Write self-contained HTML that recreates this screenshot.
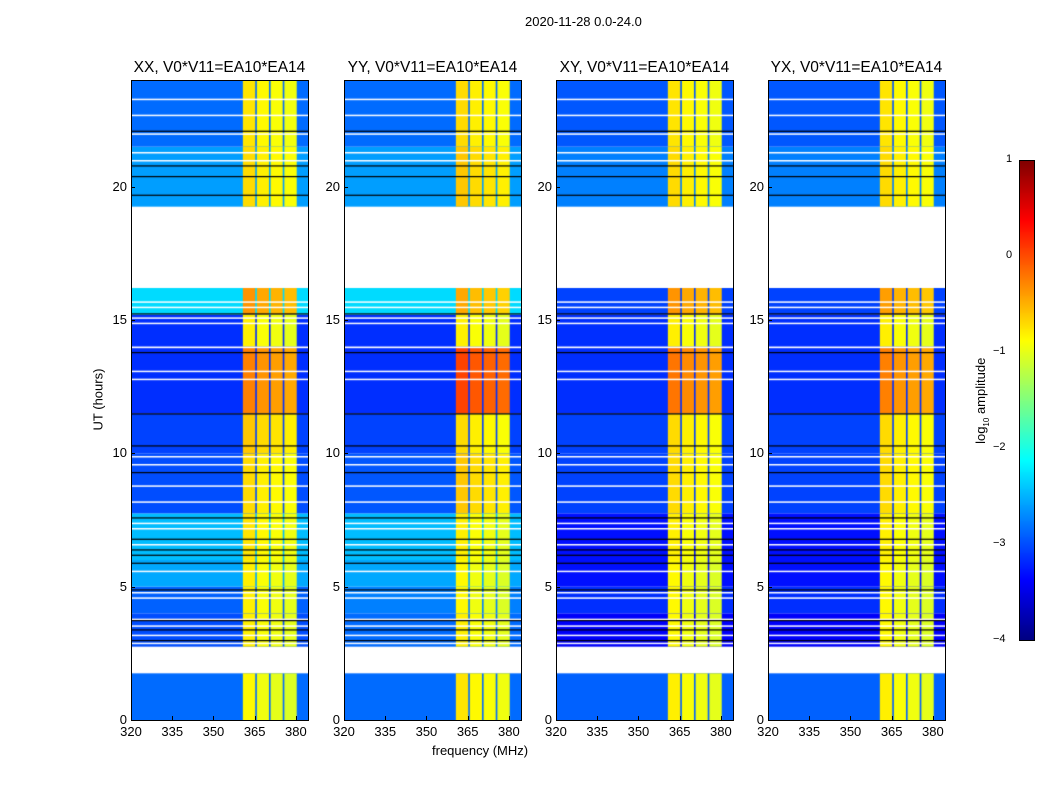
<!DOCTYPE html>
<html><head><meta charset="utf-8"><style>
body{margin:0;background:#fff;width:1050px;height:800px;position:relative;overflow:hidden;font-family:"Liberation Sans",sans-serif;}
.t{position:absolute;white-space:nowrap;color:#000;}
canvas{position:absolute;}
.frame{position:absolute;border:1px solid #000;box-sizing:border-box;}
</style></head><body>
<div class="t" style="left:525px;top:14px;font-size:13px;">2020-11-28 0.0-24.0</div>
<div class="t" style="left:50px;top:392px;font-size:13px;transform:rotate(-90deg);transform-origin:center;width:96px;text-align:center;">UT (hours)</div>
<div class="t" style="left:432px;top:743px;font-size:13px;">frequency (MHz)</div>
<div id="root"></div>
<script>
// ---- data ----
const panelTitles = ["XX, V0*V11=EA10*EA14","YY, V0*V11=EA10*EA14","XY, V0*V11=EA10*EA14","YX, V0*V11=EA10*EA14"];
const xTicks = [320,335,350,365,380];
const yTicks = [0,5,10,15,20];
const cbTicks = [1,0,-1,-2,-3,-4];
// segments: [startHour, endHour, backgroundLog, bandLog]  (null = flagged)
const segXX = [[0,1.75,-2.85,-0.95],[1.75,2.75,null,null],[2.75,4,-3.0,-0.9],[4,5,-2.9,-0.9],[5,6,-2.55,-0.9],[6,7.75,-2.45,-0.85],[7.75,10,-3.0,-0.8],[10,11.5,-3.05,-0.7],[11.5,14,-3.15,-0.35],[14,15.2,-3.15,-0.9],[15.2,16.2,-2.3,-0.45],[16.2,19.25,null,null],[19.25,21.5,-2.6,-0.8],[21.5,24,-2.85,-0.85]];
const segYY = [[0,1.75,-2.85,-0.85],[1.75,2.75,null,null],[2.75,4,-2.85,-0.9],[4,5,-2.75,-0.95],[5,6,-2.55,-0.95],[6,7.75,-2.45,-0.9],[7.75,10,-2.95,-0.7],[10,11.5,-3.05,-0.8],[11.5,14,-3.15,-0.05],[14,15.2,-3.15,-0.9],[15.2,16.2,-2.3,-0.55],[16.2,19.25,null,null],[19.25,21.5,-2.6,-0.7],[21.5,24,-2.85,-0.8]];
const segXY = [[0,1.75,-2.9,-0.9],[1.75,2.75,null,null],[2.75,4,-3.4,-0.95],[4,5,-3.15,-0.95],[5,6,-3.3,-0.95],[6,7.75,-3.3,-0.9],[7.75,10,-3.05,-0.8],[10,11.5,-3.05,-0.8],[11.5,14,-3.15,-0.3],[14,15.2,-3.15,-0.9],[15.2,16.2,-3.05,-0.45],[16.2,19.25,null,null],[19.25,21.5,-2.75,-0.8],[21.5,24,-2.95,-0.85]];
const segYX = [[0,1.75,-2.9,-0.9],[1.75,2.75,null,null],[2.75,4,-3.4,-0.95],[4,5,-3.15,-0.95],[5,6,-3.3,-0.95],[6,7.75,-3.3,-0.9],[7.75,10,-3.05,-0.8],[10,11.5,-3.05,-0.8],[11.5,14,-3.15,-0.35],[14,15.2,-3.15,-0.9],[15.2,16.2,-3.05,-0.5],[16.2,19.25,null,null],[19.25,21.5,-2.75,-0.8],[21.5,24,-2.95,-0.85]];
const panelSegs = [segXX,segYY,segXY,segYX];
// band sub-channels [startMHz, endMHz, offset]
const subBands = [[360.7,365.2,0.1],[365.8,370.2,0.0],[370.8,375.2,-0.05],[375.8,380.3,-0.1]];
const whiteLines = [2.9,3.2,3.55,3.8,4.6,4.8,5.6,6.6,7.2,7.4,8.2,8.8,9.6,9.9,12.8,13.1,14.0,14.9,15.1,15.5,15.7,21.0,21.3,22.0,22.7,23.3];
const blackLines = [3.0,3.4,3.75,4.9,5.9,6.2,6.4,6.8,7.6,9.3,10.3,11.5,13.8,15.25,19.7,20.4,20.8,22.1];
// ---- layout ----
const panelX = [131,344,556,768], PW=177, PT=80, PB=720, fMin=320, fMax=384.4;
const root=document.getElementById('root');
function jet(v){let t=Math.max(0,Math.min(1,(v+4)/5));
 const c=x=>Math.round(255*Math.max(0,Math.min(1,x)));
 return `rgb(${c(1.5-Math.abs(4*t-3))},${c(1.5-Math.abs(4*t-2))},${c(1.5-Math.abs(4*t-1))})`;}
const yS=h=>PB-(h/24)*(PB-PT);
panelSegs.forEach((segs,p)=>{
 const x0=panelX[p]; const xS=f=>(f-fMin)/(fMax-fMin)*PW;
 const cv=document.createElement('canvas');cv.width=PW;cv.height=PB-PT;
 cv.style.left=x0+'px';cv.style.top=PT+'px';
 
 
 root.appendChild(cv);const g=cv.getContext('2d');
 segs.forEach(s=>{ if(s[2]===null)return;
  const ya=yS(s[1])-PT, yb=yS(s[0])-PT;
  g.fillStyle=jet(s[2]);g.fillRect(0,ya,PW,yb-ya);
  subBands.forEach(b=>{g.fillStyle=jet(s[3]+b[2]);g.fillRect(xS(b[0]),ya,xS(b[1])-xS(b[0]),yb-ya);});
 });
 whiteLines.forEach(h=>{g.fillStyle='#fff';g.fillRect(0,yS(h)-PT,PW,1.5);});
 blackLines.forEach(h=>{g.fillStyle='#000';g.fillRect(0,yS(h)-PT,PW,1.2);});
 const fr=document.createElement('div');fr.className='frame';
 
 
 fr.style.cssText=`left:${x0}px;top:${PT}px;width:${PW+1}px;height:${PB-PT+1}px;`;root.appendChild(fr);
 const tt=document.createElement('div');tt.className='t';tt.textContent=panelTitles[p];
 
 
 tt.style.cssText=`left:${x0-8}px;top:59px;width:${PW+16}px;text-align:center;font-size:15.5px;`;root.appendChild(tt);
 xTicks.forEach(v=>{const l=document.createElement('div');l.className='t';l.textContent=v;
  
  
  l.style.cssText=`left:${x0+xS(v)-15}px;top:724px;width:30px;text-align:center;font-size:13px;`;root.appendChild(l);
  const tk=document.createElement('div');tk.style.cssText=`position:absolute;left:${x0+xS(v)}px;top:${PB-4}px;width:1px;height:4px;background:#000;`;root.appendChild(tk);});
 yTicks.forEach(v=>{const l=document.createElement('div');l.className='t';l.textContent=v;
  
  
  l.style.cssText=`left:${x0-34}px;top:${yS(v)-8}px;width:30px;text-align:right;font-size:13px;`;root.appendChild(l);
  const tk=document.createElement('div');tk.style.cssText=`position:absolute;left:${x0}px;top:${yS(v)}px;width:4px;height:1px;background:#000;`;root.appendChild(tk);});
});
// colorbar
const cb=document.createElement('canvas');cb.width=15;cb.height=480;cb.style.left='1019px';cb.style.top='160px';


root.appendChild(cb);const cg=cb.getContext('2d');
for(let i=0;i<480;i++){cg.fillStyle=jet(1-5*i/480);cg.fillRect(0,i,15,1);}
const cbf=document.createElement('div');cbf.className='frame';cbf.style.cssText='left:1019px;top:160px;width:16px;height:481px;';root.appendChild(cbf);
cbTicks.forEach(v=>{const y=160+(1-v)/5*480;const l=document.createElement('div');l.className='t';
 l.textContent=v<0?'\u2212'+(-v):String(v);
 
 
 l.style.cssText=`left:${v<0?993:1006}px;top:${y-7}px;font-size:11px;`;root.appendChild(l);});
const cl=document.createElement('div');cl.className='t';cl.innerHTML='log<sub style="font-size:8px">10</sub> amplitude';


cl.style.cssText='left:932px;top:392px;width:100px;text-align:center;font-size:13px;transform:rotate(-90deg);';root.appendChild(cl);
</script>
</body></html>
